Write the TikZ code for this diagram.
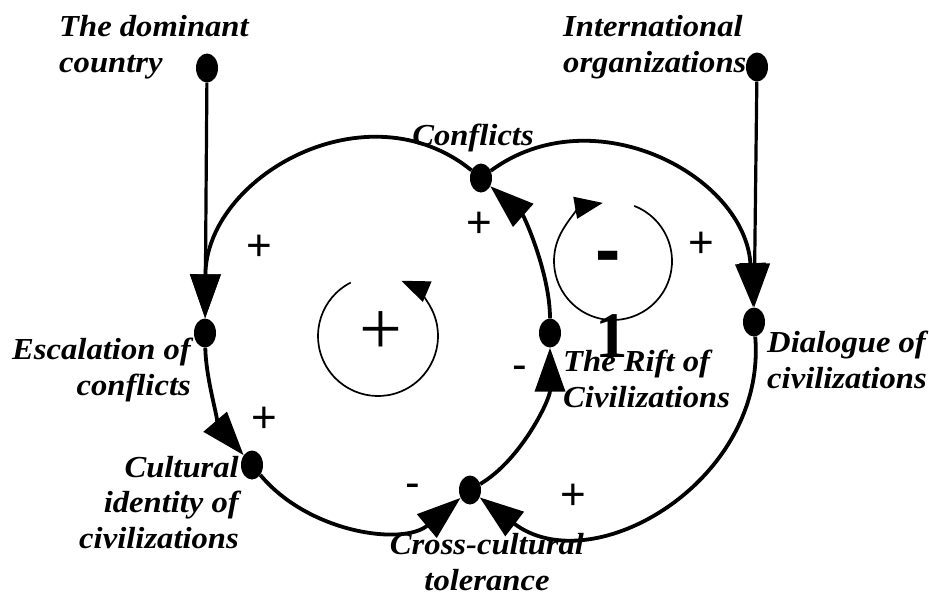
\documentclass[tikz,border=0pt]{standalone}
\usepackage{fontspec}
\setmainfont{Liberation Serif}[FakeStretch=1.07]
\newfontfamily\signfont{Liberation Sans}
\newfontfamily\digitfont{Liberation Serif}
\usetikzlibrary{arrows.meta,shapes.geometric}

\begin{document}
\begin{tikzpicture}[x=1pt,y=1pt,
 vdot/.style={ellipse, fill=black, draw=none, minimum width=22pt, minimum height=29pt, inner sep=0pt},
 lab/.style={inner sep=0pt, font=\fontsize{30.5}{35.5}\selectfont\bfseries\itshape},
 link/.style={line width=3.8pt, -{Triangle[length=44pt,width=30pt]}},
 feed/.style={line width=3.2pt, -{Triangle[length=44pt,width=30pt]}},
 loopline/.style={line width=1.7pt, -{Triangle[length=28pt,width=22pt]}},
 sgn/.style={inner sep=0pt, font=\signfont\fontsize{44}{44}\selectfont},
]
\useasboundingbox[fill=white] (0,0) rectangle (929,-595);

% variables
\node[vdot] (dom) at (207,-68) {};
\node[vdot] (intl) at (757,-67) {};
\node[vdot] (conf) at (481,-178) {};
\node[vdot] (esc) at (205,-333) {};
\node[vdot] (cult) at (252,-465) {};
\node[vdot] (cross) at (470,-490) {};
\node[vdot] (rift) at (550,-333) {};
\node[vdot] (dial) at (754,-322) {};

% connectors
\draw[feed] (dom) -- (esc);
\draw[feed] (intl) -- (dial);
\draw[link] (conf) .. controls (366.7,-85.5) and (206,-176.5) .. (esc);
\draw[link] (esc) .. controls (206,-383.4) and (222.2,-430) .. (cult);
\draw[link] (cult) .. controls (308.7,-533) and (402.9,-546) .. (cross);
\draw[link] (cross) .. controls (521.2,-459.8) and (550,-399.5) .. (rift);
\draw[link] (rift) .. controls (550,-273.8) and (524.2,-216.2) .. (conf);
\draw[link] (conf) .. controls (593,-95.4) and (745.1,-175.1) .. (dial);
\draw[link] (dial) .. controls (767.2,-481) and (592.2,-583) .. (cross);

% labels (base = baseline of last line)
\node[lab, align=left, anchor=base west] (domL) at (59,-72) {The dominant\\country};
\node[lab, align=left, anchor=base west] (intlL) at (563,-72) {International\\organizations};
\node[lab, anchor=base] (confL) at (473,-145) {Conflicts};
\node[lab, align=right, anchor=base east] (escL) at (191,-395) {Escalation of\\conflicts};
\node[lab, align=right, anchor=base east] (cultL) at (239,-548) {Cultural\\identity of\\civilizations};
\node[lab, align=center, anchor=base] (crossL) at (487,-590) {Cross-cultural\\tolerance};
\node[lab, align=left, anchor=base west] (riftL) at (563,-407) {The Rift of\\Civilizations};
\node[lab, align=left, anchor=base west] (dialL) at (767,-388) {Dialogue of\\civilizations};

% polarity signs
\node[sgn] (s1) at (259,-248) {+};
\node[sgn] (s2) at (479,-225) {+};
\node[sgn] (s3) at (264,-420) {+};
\node[sgn] (s4) at (413,-491) {-};
\node[sgn] (s5) at (520,-373) {-};
\node[sgn] (s6) at (573,-497) {+};
\node[sgn] (s7) at (701,-245) {+};

% loop symbols
\draw[loopline] (378,-336) ++(117:60pt) arc[start angle=117, end angle=427, radius=60pt];
\draw[loopline] (613,-261) ++(69:59pt) arc[start angle=69, end angle=-260, radius=59pt];
\node[inner sep=0pt, font=\digitfont\fontsize{76}{76}\selectfont] (bigplus) at (381,-333) {+};
\node[inner sep=0pt, font=\signfont\bfseries\fontsize{76}{76}\selectfont] (bigminus) at (608,-263) {-};
\node[inner sep=0pt, anchor=base, font=\digitfont\bfseries\fontsize{65}{65}\selectfont] (one) at (612,-357) {1};
\end{tikzpicture}
\end{document}
